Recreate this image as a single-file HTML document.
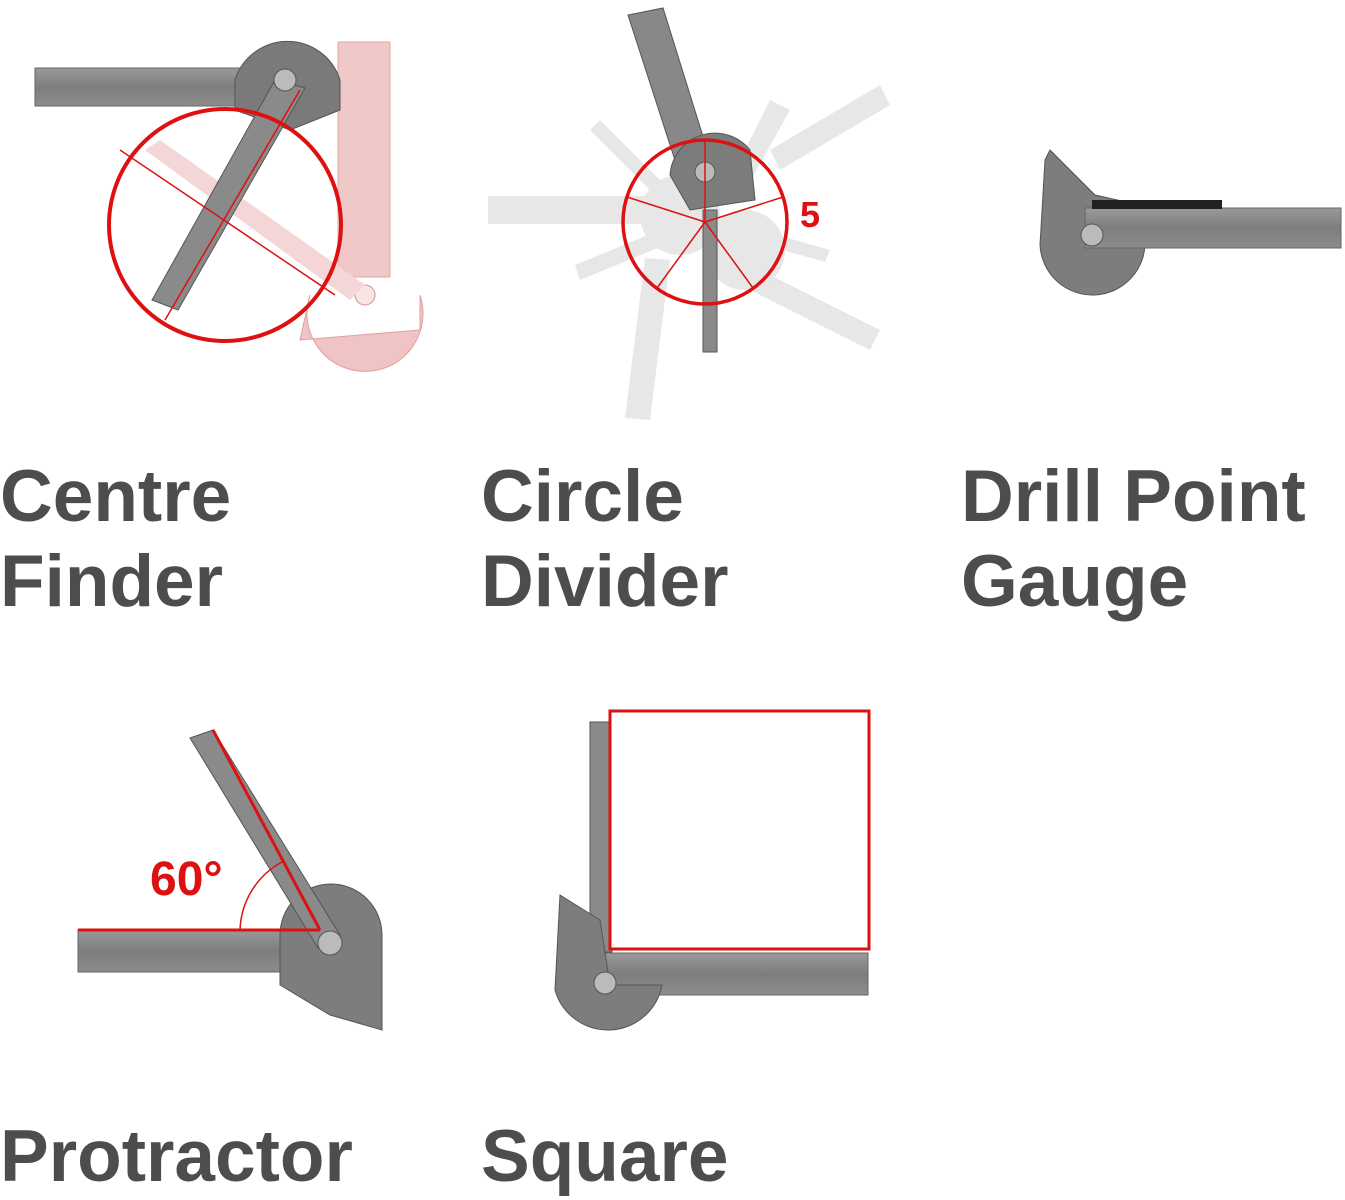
<!DOCTYPE html>
<html><head><meta charset="utf-8"><style>
html,body{margin:0;padding:0;background:#fff;}
body{width:1345px;height:1200px;position:relative;overflow:hidden;font-family:"Liberation Sans",sans-serif;}
.t{position:absolute;font-weight:bold;font-size:73px;line-height:85px;color:#4d4d4f;letter-spacing:0px;}
svg{position:absolute;left:0;top:0;}
</style></head><body>
<svg width="1345" height="1200" viewBox="0 0 1345 1200">
<defs>
<linearGradient id="st" x1="0" y1="0" x2="0" y2="1"><stop offset="0" stop-color="#9a9a9a"/><stop offset="0.5" stop-color="#7d7d7d"/><stop offset="1" stop-color="#8c8c8c"/></linearGradient>
</defs>
<g>
<rect x="338" y="42" width="52" height="235" fill="#f0c8c8" stroke="#e0a8a8"/>
<path d="M310 295 A58 58 0 1 0 420 295 L420 330 L300 340 Z" fill="#f0c4c4" stroke="#e0a0a0"/>
<circle cx="365" cy="295" r="10" fill="#f8e4e4" stroke="#d09090"/>
<polygon points="145,150 160,140 365,285 350,300" fill="#f5d6d6"/>
<rect x="35" y="68" width="250" height="38" fill="url(#st)" stroke="#666"/>
<path d="M235 80 A55 55 0 0 1 340 80 L340 110 L290 130 L235 110 Z" fill="#7a7a7a" stroke="#555"/>
<polygon points="275,80 305,88 178,310 152,300" fill="#8a8a8a" stroke="#555"/>
<circle cx="285" cy="80" r="11" fill="#bbb" stroke="#555"/>
<circle cx="225" cy="225" r="116" fill="none" stroke="#d11" stroke-width="4"/>
<line x1="120" y1="150" x2="335" y2="295" stroke="#d11" stroke-width="1.5"/>
<line x1="300" y1="90" x2="165" y2="320" stroke="#d11" stroke-width="1.5"/>
</g>
<g opacity="0.35">
<rect x="488" y="196" width="160" height="28" fill="#bbb"/>
<polygon points="770,150 880,85 890,105 780,170" fill="#bbb"/>
<polygon points="760,270 880,330 870,350 750,290" fill="#bbb"/>
<polygon points="670,260 650,420 625,418 645,258" fill="#bbb"/>
<polygon points="600,120 670,190 660,200 590,130" fill="#bbb"/>
<polygon points="575,265 660,230 665,245 580,280" fill="#bbb"/>
<polygon points="770,100 790,110 740,200 725,190" fill="#bbb"/>
<polygon points="760,230 830,250 825,262 755,242" fill="#bbb"/>
<circle cx="745" cy="250" r="40" fill="#bbb"/>
<circle cx="680" cy="215" r="40" fill="#bbb"/>
</g>
<polygon points="628,15 663,8 715,175 683,185" fill="#888" stroke="#555"/>
<path d="M670 175 A45 45 0 0 1 750 150 L755 200 L690 210 Z" fill="#7c7c7c" stroke="#555"/>
<circle cx="705" cy="172" r="10" fill="#bbb" stroke="#555"/>
<rect x="703" y="210" width="14" height="142" fill="#8a8a8a" stroke="#555"/>
<circle cx="705" cy="222" r="82" fill="none" stroke="#d11" stroke-width="3.5"/>
<g stroke="#d11" stroke-width="1.5">
<line x1="705" y1="222" x2="705" y2="140"/><line x1="705" y1="222" x2="783" y2="197"/><line x1="705" y1="222" x2="753" y2="288"/><line x1="705" y1="222" x2="657" y2="288"/><line x1="705" y1="222" x2="627" y2="197"/>
</g>
<text x="800" y="227" font-family="Liberation Sans" font-weight="bold" font-size="36" fill="#d11">5</text>
<path d="M1045 160 L1050 150 L1095 195 L1140 205 L1145 240 A52 52 0 0 1 1040 245 Z" fill="#7d7d7d" stroke="#555"/>
<rect x="1085" y="208" width="256" height="40" fill="url(#st)" stroke="#666"/>
<rect x="1092" y="200" width="130" height="9" fill="#222"/>
<circle cx="1092" cy="235" r="11" fill="#bbb" stroke="#555"/>
<rect x="78" y="930" width="255" height="42" fill="url(#st)" stroke="#666"/>
<path d="M280 935 A50 50 0 0 1 382 935 L382 1030 L330 1015 L280 985 Z" fill="#7d7d7d" stroke="#555"/>
<polygon points="190,738 213,730 340,935 318,948" fill="#8a8a8a" stroke="#555"/>
<circle cx="330" cy="943" r="12" fill="#bbb" stroke="#555"/>
<line x1="78" y1="930" x2="320" y2="930" stroke="#d11" stroke-width="3"/>
<line x1="213" y1="730" x2="320" y2="930" stroke="#d11" stroke-width="3"/>
<path d="M240 930 A80 80 0 0 1 282 862" fill="none" stroke="#d11" stroke-width="1.5"/>
<text x="150" y="895" font-family="Liberation Sans" font-weight="bold" font-size="48" fill="#d11">60°</text>
<rect x="590" y="722" width="22" height="230" fill="#8a8a8a" stroke="#555"/>
<rect x="600" y="953" width="268" height="42" fill="url(#st)" stroke="#666"/>
<path d="M560 895 L600 920 L610 985 L662 985 A55 55 0 0 1 555 990 Z" fill="#7d7d7d" stroke="#555"/>
<circle cx="605" cy="983" r="11" fill="#bbb" stroke="#555"/>
<rect x="610" y="711" width="259" height="238" fill="#fff" stroke="#d11" stroke-width="3"/>
</svg>
<div class="t" style="left:0;top:454px;">Centre<br>Finder</div>
<div class="t" style="left:481px;top:454px;">Circle<br>Divider</div>
<div class="t" style="left:961px;top:454px;">Drill Point<br>Gauge</div>
<div class="t" style="left:0;top:1114px;">Protractor</div>
<div class="t" style="left:481px;top:1114px;">Square</div>
</body></html>
